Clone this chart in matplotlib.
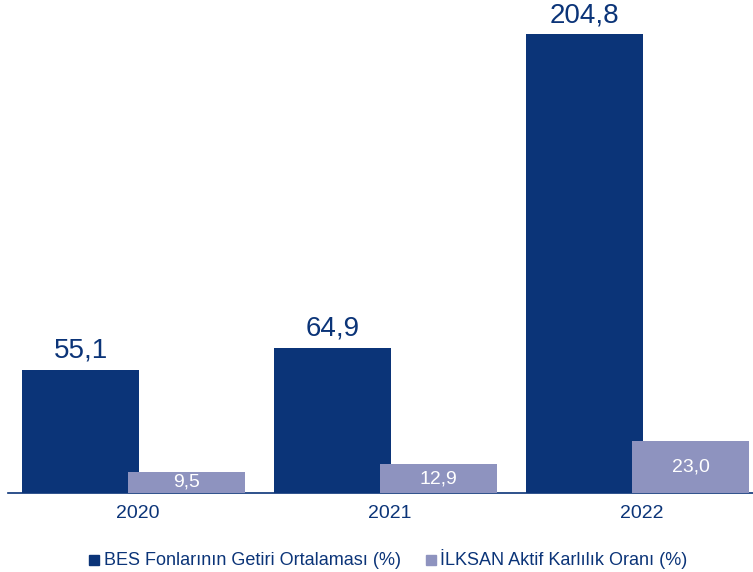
import matplotlib.pyplot as plt
from matplotlib.patches import Rectangle
import numpy as np

plt.rcParams['font.family'] = ['Liberation Sans', 'DejaVu Sans']

years = ['2020', '2021', '2022']
bes = [55.1, 64.9, 204.8]
ilksan = [9.5, 12.9, 23.0]
bes_label = 'BES Fonlarının Getiri Ortalaması (%)'
ilksan_label = 'İLKSAN Aktif Karlılık Oranı (%)'

dark = '#0b3478'
light = '#8e93bf'

W, H = 753, 572
fig = plt.figure(figsize=(W / 100, H / 100), dpi=100)
ax = fig.add_axes([8 / W, 79 / H, 745 / W, 493 / H])

x = np.arange(len(years))
w = 0.464
off = 0.21
ax.bar(x - off, bes, w, color=dark, zorder=2)
ax.bar(x + off, ilksan, w, color=light, zorder=3)

fmt = lambda v: f'{v:.1f}'.replace('.', ',')
for xi, v in zip(x, bes):
    ax.text(xi - off, v + 2.5, fmt(v), ha='center', va='bottom', fontsize=20, color=dark)
for xi, v in zip(x, ilksan):
    ax.text(xi + off, v / 2, fmt(v), ha='center', va='center', fontsize=14, color='white', zorder=4)

ax.set_xlim(-0.498, 2.458)
ax.set_ylim(0, 220)
ax.set_xticks(x + 0.015)
ax.set_xticklabels(years, fontsize=14, color=dark)
ax.tick_params(axis='x', length=0, pad=9)
ax.set_yticks([])
for s in ['top', 'right', 'left']:
    ax.spines[s].set_visible(False)
ax.spines['bottom'].set_color(dark)
ax.spines['bottom'].set_linewidth(1.2)

# legend drawn by hand (square + text)
for sx, tx, col, lab in [(89, 104, dark, bes_label), (426, 440, light, ilksan_label)]:
    fig.patches.append(Rectangle((sx / W, (H - 565) / H), 10 / W, 10 / H,
                                 transform=fig.transFigure, color=col))
    fig.text(tx / W, (H - 565) / H, lab, fontsize=13, color=dark, ha='left', va='baseline')

fig.savefig('out.png', dpi=100)
